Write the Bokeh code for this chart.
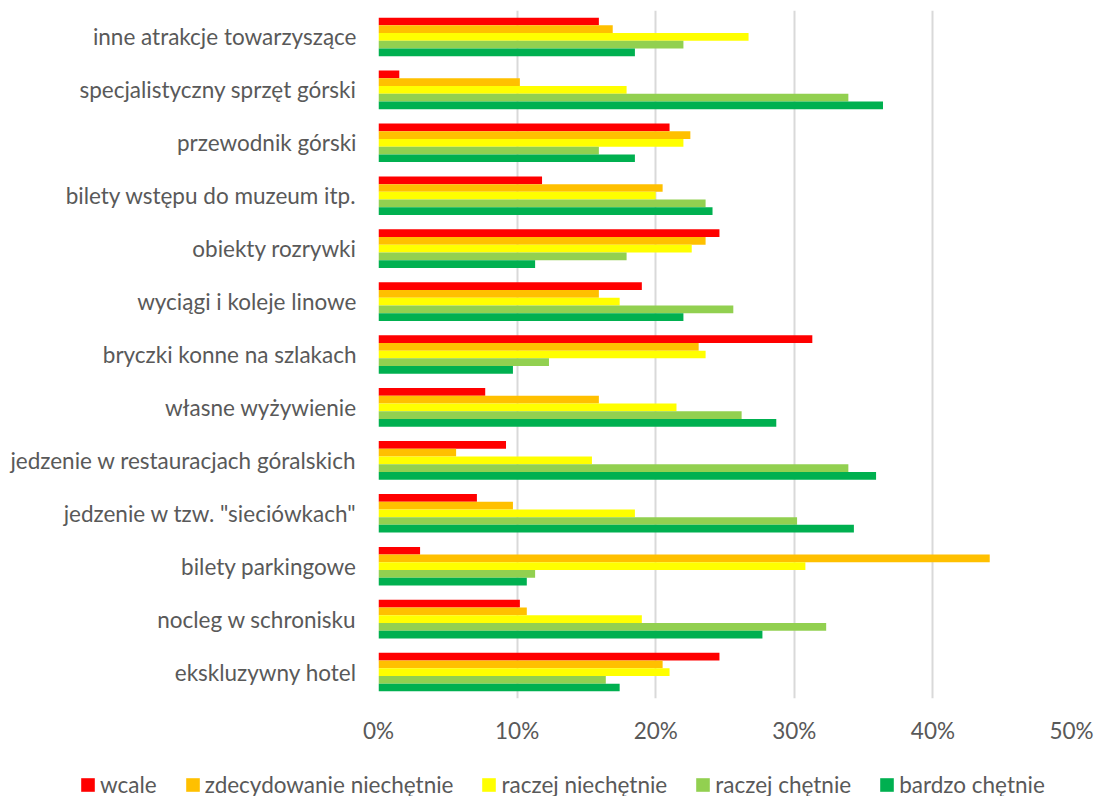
from bokeh.plotting import figure
from bokeh.models import (Range1d, FactorRange, NumeralTickFormatter, FixedTicker,
                          Legend, LegendItem, ColumnDataSource)
from bokeh.transform import dodge
from bokeh.embed import file_html
from bokeh.resources import INLINE

# categories listed top to bottom as in the chart
categories = [
    "inne atrakcje towarzyszące",
    "specjalistyczny sprzęt górski",
    "przewodnik górski",
    "bilety wstępu do muzeum itp.",
    "obiekty rozrywki",
    "wyciągi i koleje linowe",
    "bryczki konne na szlakach",
    "własne wyżywienie",
    "jedzenie w restauracjach góralskich",
    'jedzenie w tzw. "sieciówkach"',
    "bilety parkingowe",
    "nocleg w schronisku",
    "ekskluzywny hotel",
]
wcale = [15.9, 1.5, 21.0, 11.8, 24.6, 19.0, 31.3, 7.7, 9.2, 7.1, 3.0, 10.2, 24.6]
zdecydowanie_niechetnie = [16.9, 10.2, 22.5, 20.5, 23.6, 15.9, 23.1, 15.9, 5.6, 9.7, 44.1, 10.7, 20.5]
raczej_niechetnie = [26.7, 17.9, 22.0, 20.0, 22.6, 17.4, 23.6, 21.5, 15.4, 18.5, 30.8, 19.0, 21.0]
raczej_chetnie = [22.0, 33.9, 15.9, 23.6, 17.9, 25.6, 12.3, 26.2, 33.9, 30.2, 11.3, 32.3, 16.4]
bardzo_chetnie = [18.5, 36.4, 18.5, 24.1, 11.3, 22.0, 9.7, 28.7, 35.9, 34.3, 10.7, 27.7, 17.4]

series_names = ["wcale", "zdecydowanie niechętnie", "raczej niechętnie", "raczej chętnie", "bardzo chętnie"]
series_values = [wcale, zdecydowanie_niechetnie, raczej_niechetnie, raczej_chetnie, bardzo_chetnie]
colors = ["#FF0000", "#FFC000", "#FFFF00", "#92D050", "#00B050"]
x_ticks = [0, 0.1, 0.2, 0.3, 0.4, 0.5]

FONT = "Lato"
FSIZE = "22.5px"
TXT = "#595959"

factors = categories[::-1]
data = {"cat": factors}
for i, vals in enumerate(series_values):
    data[f"s{i}"] = [v / 100.0 for v in vals[::-1]]
source = ColumnDataSource(data)

p = figure(width=1097, height=746,
           y_range=FactorRange(*factors), x_range=Range1d(0, 0.5),
           output_backend="svg", toolbar_location=None,
           min_border_left=378, min_border_right=26,
           min_border_top=10, min_border_bottom=46)

bar_h = 0.146
offsets = [2 * bar_h, bar_h, 0.0, -bar_h, -2 * bar_h]
for i, (name, col) in enumerate(zip(series_names, colors)):
    p.hbar(y=dodge("cat", offsets[i], range=p.y_range), right=f"s{i}", left=0,
           height=bar_h, source=source, fill_color=col, line_color=None)

p.outline_line_color = None
p.ygrid.grid_line_color = None
p.xgrid.grid_line_color = "#d9d9d9"
p.xgrid.grid_line_width = 2
p.xaxis.ticker = FixedTicker(ticks=x_ticks)
p.xaxis.formatter = NumeralTickFormatter(format="0%")

for ax in (p.xaxis[0], p.yaxis[0]):
    ax.axis_line_color = None
    ax.major_tick_line_color = None
    ax.minor_tick_line_color = None
    ax.major_tick_out = 0
    ax.major_tick_in = 0
    ax.major_label_text_font = FONT
    ax.major_label_text_font_size = FSIZE
    ax.major_label_text_color = TXT

p.xaxis.major_label_standoff = 18
p.yaxis.major_label_standoff = 22

# legend strip (separate root so its frame spans the full width)
leg = figure(width=1097, height=50, output_backend="svg", toolbar_location=None,
             x_axis_type=None, y_axis_type=None,
             x_range=Range1d(0, 1), y_range=Range1d(0, 1),
             min_border_left=0, min_border_right=0, min_border_top=0, min_border_bottom=0)
leg.outline_line_color = None
leg.xgrid.visible = False
leg.ygrid.visible = False
items = []
for name, col in zip(series_names, colors):
    # zero-width bar: nothing is drawn, only its legend swatch shows
    r = leg.hbar(y=[0.5], right=[0], left=0, height=0.1, fill_color=col, line_color=None)
    items.append(LegendItem(label=name, renderers=[r]))
legend = Legend(items=items, orientation="horizontal", location=(79, -1.5),
                padding=0, margin=0, spacing=27,
                glyph_width=17, glyph_height=17, label_standoff=4, label_height=20,
                label_text_font=FONT, label_text_font_size=FSIZE,
                label_text_color=TXT,
                background_fill_alpha=0, border_line_alpha=0)
leg.add_layout(legend)

open("out.html", "w").write(file_html([p, leg], INLINE))
